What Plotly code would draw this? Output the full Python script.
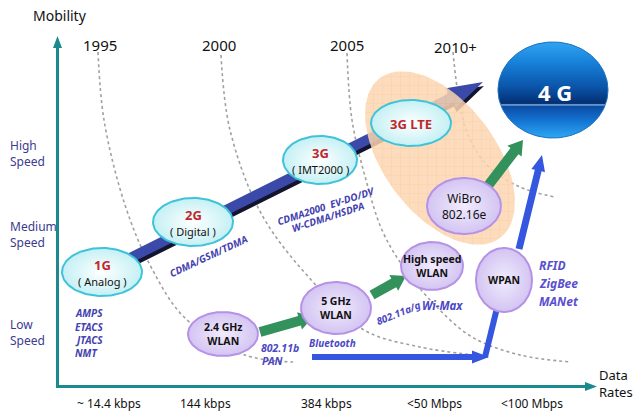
import numpy as np
import plotly.graph_objects as go

# ---------------- data (labels / categories) ----------------
rate_labels = ["~ 14.4 kbps", "144 kbps", "384 kbps", "<50 Mbps", "<100 Mbps"]
mobility_labels = ["High<br>Speed", "Medium<br>Speed", "Low<br>Speed"]
year_labels = ["1995", "2000", "2005", "2010+"]
cell_gen = ["1G", "2G", "3G", "3G LTE"]
cell_sub = ["( Analog )", "( Digital )", "( IMT2000 )", ""]
wl_nodes = ["2.4 GHz<br>WLAN", "5 GHz<br>WLAN", "High speed<br>WLAN", "WiBro<br>802.16e", "WPAN"]
tech_1g = ["AMPS", "ETACS", "JTACS", "NMT"]
tech_2g = ["CDMA/GSM/TDMA"]
tech_3g = ["CDMA2000  EV-DO/DV", "W-CDMA/HSDPA"]
tech_wpan = ["RFID", "ZigBee", "MANet"]
tech_misc = ["802.11b", "PAN", "Bluetooth", "802.11a/g", "Wi-Max"]
target_label = "4 G"
axis_titles = ["Mobility", "Data<br>Rates"]

# ---------------- layout (positions, sizes) ----------------
W, H = 634, 415
rate_x = [109, 205, 326, 434, 532]
rate_y = 403
mob_y = [153, 234, 332]
year_x = [100, 219, 347, 455]
year_y = [45, 45, 45, 47]
cell_geo = [(102, 272, 40, 24), (193, 222, 40, 24), (320, 160, 37, 24), (411, 123, 40, 23)]
wl_geo = [(223, 334, 35, 22), (336, 308, 35, 26), (432, 266, 31, 24), (464, 206, 37, 28), (504, 280, 28, 32)]
g4_geo = (553, 90, 55, 48)
zone_geo = (440, 158, 100, 56, np.deg2rad(53))
tech_1g_y = [313, 327, 340, 353]
tech_wpan_y = [265, 283, 301]
misc_pos = [(280, 348, 0, 10.5), (272, 361, 0, 10.5), (332, 343, 0, 10), (398, 313, -22, 10), (442, 305, 0, 11.5)]
era_curves = [
    [(98, 52), (104, 120), (125, 205), (150, 265), (185, 318), (245, 355), (293, 362)],
    [(221, 55), (230, 130), (262, 215), (313, 282), (364, 330), (420, 347), (474, 355)],
    [(347, 53), (352, 120), (366, 180), (382, 230), (402, 265), (432, 302), (472, 337), (520, 355), (571, 362)],
    [(453, 52), (459, 100), (468, 135), (488, 166), (520, 187), (555, 197)],
]

TEAL = "#1b8a8f"
FONT = "Noto Sans"
ITAL = "#4442b0"

fig = go.Figure()


def ellipse_pts(cx, cy, rx, ry, rot=0.0, n=120):
    t = np.linspace(0, 2 * np.pi, n)
    x, y = rx * np.cos(t), ry * np.sin(t)
    c, s = np.cos(rot), np.sin(rot)
    return cx + x * c - y * s, cy + x * s + y * c


def arrow_poly(x0, y0, x1, y1, w, hw=0, hl=0):
    d = np.array([x1 - x0, y1 - y0], float)
    d /= np.hypot(*d)
    nv = np.array([-d[1], d[0]])
    p0, p1 = np.array([x0, y0], float), np.array([x1, y1], float)
    if hl > 0:
        b = p1 - d * hl
        pts = [p0 + nv * w / 2, b + nv * w / 2, b + nv * hw / 2, p1, b - nv * hw / 2, b - nv * w / 2, p0 - nv * w / 2]
    else:
        pts = [p0 + nv * w / 2, p1 + nv * w / 2, p1 - nv * w / 2, p0 - nv * w / 2]
    pts.append(pts[0])
    pts = np.array(pts)
    return pts[:, 0], pts[:, 1]


def poly(x, y, color, opacity=1.0):
    fig.add_trace(go.Scatter(x=x, y=y, fill="toself", fillcolor=color, mode="lines",
                             line=dict(width=0, color=color), opacity=opacity,
                             hoverinfo="skip", showlegend=False))


# era dotted curves
for pts in era_curves:
    xs, ys = zip(*pts)
    fig.add_trace(go.Scatter(x=xs, y=ys, mode="lines",
                             line=dict(color="#a0a0a0", width=1.6, dash="dot", shape="spline", smoothing=1.0),
                             hoverinfo="skip", showlegend=False))

# main evolution band (shadow + band)
mx0, my0 = cell_geo[0][0], cell_geo[0][1]
mx1, my1 = 483, 82
sx, sy = arrow_poly(mx0 + 1, my0 + 4, mx1 + 1, my1 + 4, 10, 22, 36)
poly(sx, sy, "#14142e")
bx, by = arrow_poly(mx0, my0, mx1, my1, 10, 22, 36)
poly(bx, by, "#3b49a8")

# orange 4G-candidate zone with grid
zx, zy = ellipse_pts(*zone_geo)
fig.add_trace(go.Scatter(x=zx, y=zy, fill="toself", mode="lines", line=dict(width=0),
                         fillcolor="#fcd8b4", opacity=0.85,
                         fillpattern=dict(shape="+", fgcolor="#f0bd8c", bgcolor="#fcd6b0", size=9, solidity=0.12),
                         hoverinfo="skip", showlegend=False))

# green arrows
for (a, b, c, d) in [(260, 332, 313, 317), (372, 295, 406, 276), (487, 187, 523, 140)]:
    gx, gy = arrow_poly(a, b, c, d, 10, 18, 14)
    poly(gx, gy, "#33925c")

# blue arrows (WPAN path)
bx1, by1 = arrow_poly(312, 357, 489, 357, 6, 13, 17)
poly(bx1, by1, "#3557e0")
bx2, by2 = arrow_poly(485, 357, 497, 308, 6)
poly(bx2, by2, "#3557e0")
bx3, by3 = arrow_poly(519, 249, 542, 155, 7, 14, 16)
poly(bx3, by3, "#3557e0")

# cellular nodes (cyan)
for (cx, cy, rx, ry) in cell_geo:
    ex, ey = ellipse_pts(cx, cy, rx, ry)
    fig.add_trace(go.Scatter(x=ex, y=ey, fill="toself", mode="lines",
                             line=dict(color="#3fc3d9", width=2),
                             fillgradient=dict(type="radial", colorscale=[[0, "#ffffff"], [1, "#c4f0f4"]]),
                             hoverinfo="skip", showlegend=False))

# wireless nodes (lilac)
for (cx, cy, rx, ry) in wl_geo:
    ex, ey = ellipse_pts(cx, cy, rx, ry)
    fig.add_trace(go.Scatter(x=ex, y=ey, fill="toself", mode="lines",
                             line=dict(color="#b592e6", width=2),
                             fillgradient=dict(type="radial", colorscale=[[0, "#f1ecfd"], [1, "#d3c4f2"]]),
                             hoverinfo="skip", showlegend=False))

# 4G globe
gx4, gy4 = ellipse_pts(*g4_geo)
top4, bot4 = g4_geo[1] - g4_geo[3], g4_geo[1] + g4_geo[3]
fig.add_trace(go.Scatter(x=gx4, y=gy4, fill="toself", mode="lines",
                         line=dict(color="#1a6fc0", width=1),
                         fillgradient=dict(type="vertical", start=top4, stop=bot4,
                                           colorscale=[[0, "#30a4f0"], [0.22, "#1680d8"], [0.48, "#0a52a6"],
                                                       [0.64, "#042f72"], [0.655, "#86b6e6"], [0.67, "#0b4ca4"],
                                                       [0.82, "#1474d2"], [1, "#2ea8f5"]]),
                         hoverinfo="skip", showlegend=False))

# axes
fig.add_trace(go.Scatter(x=[57.5, 57.5], y=[387, 46], mode="lines", line=dict(color=TEAL, width=3),
                         hoverinfo="skip", showlegend=False))
fig.add_trace(go.Scatter(x=[56, 586], y=[386.5, 386.5], mode="lines", line=dict(color=TEAL, width=3),
                         hoverinfo="skip", showlegend=False))
ax1, ay1 = arrow_poly(57.5, 60, 57.5, 36, 3, 9, 12)
poly(ax1, ay1, TEAL)
ax2, ay2 = arrow_poly(570, 386.5, 597, 386.5, 3, 9, 12)
poly(ax2, ay2, TEAL)

ann = []


def txt(x, y, s, size, color="#111111", bold=False, italic=False, xanchor="center", angle=0, align="center"):
    ann.append(dict(x=x, y=y, xref="x", yref="y", text=s, showarrow=False, xanchor=xanchor, yanchor="middle",
                    textangle=angle, align=align,
                    font=dict(family=FONT, size=size, color=color, weight="bold" if bold else "normal",
                              style="italic" if italic else "normal")))


txt(60, 15, axis_titles[0], 14)
txt(597, 383, axis_titles[1], 13, xanchor="left", align="left")
for s, x in zip(rate_labels, rate_x):
    txt(x, rate_y, s, 12)
for s, y in zip(mobility_labels, mob_y):
    txt(8, y, s, 12, color="#3b3b8f", xanchor="left", align="left")
for s, x, y in zip(year_labels, year_x, year_y):
    txt(x, y, s, 15)

for g, sub, (cx, cy, rx, ry) in zip(cell_gen, cell_sub, cell_geo):
    if sub:
        txt(cx, cy - 7, g, 13, color="#c0282d", bold=True)
        txt(cx, cy + 9, sub, 11)
    else:
        txt(cx, cy + 1, g, 13, color="#c0282d", bold=True)

for s, (cx, cy, rx, ry) in zip(wl_nodes, wl_geo):
    bold = not s.startswith("WiBro")
    txt(cx, cy, s, 12 if not bold else 10.5, bold=bold)

txt(g4_geo[0] + 2, g4_geo[1] + 2, target_label, 22, color="#ffffff", bold=True)

for s, y in zip(tech_1g, tech_1g_y):
    txt(73, y, s, 10, color=ITAL, italic=True, bold=True, xanchor="left")
txt(208, 256, tech_2g[0], 10, color=ITAL, italic=True, bold=True, angle=-25)
txt(325.5, 206, tech_3g[0], 10, color=ITAL, italic=True, bold=True, angle=-18)
txt(327, 216.5, tech_3g[1], 10, color=ITAL, italic=True, bold=True, angle=-18)
for s, y in zip(tech_wpan, tech_wpan_y):
    txt(537, y, s, 12, color="#5a4fcf", italic=True, xanchor="left", bold=True)
for s, (x, y, a, fs) in zip(tech_misc, misc_pos):
    txt(x, y, s, fs, color="#4c48c4", italic=True, bold=True, angle=a)

fig.update_layout(
    width=W, height=H, margin=dict(l=0, r=0, t=0, b=0),
    paper_bgcolor="white", plot_bgcolor="white",
    xaxis=dict(range=[0, W], visible=False, fixedrange=True),
    yaxis=dict(range=[H, 0], visible=False, fixedrange=True),
    annotations=ann, showlegend=False,
)

fig.write_html("out.html", config={"displayModeBar": False},
               post_script="document.body.style.margin='0';document.body.style.overflow='hidden';")
